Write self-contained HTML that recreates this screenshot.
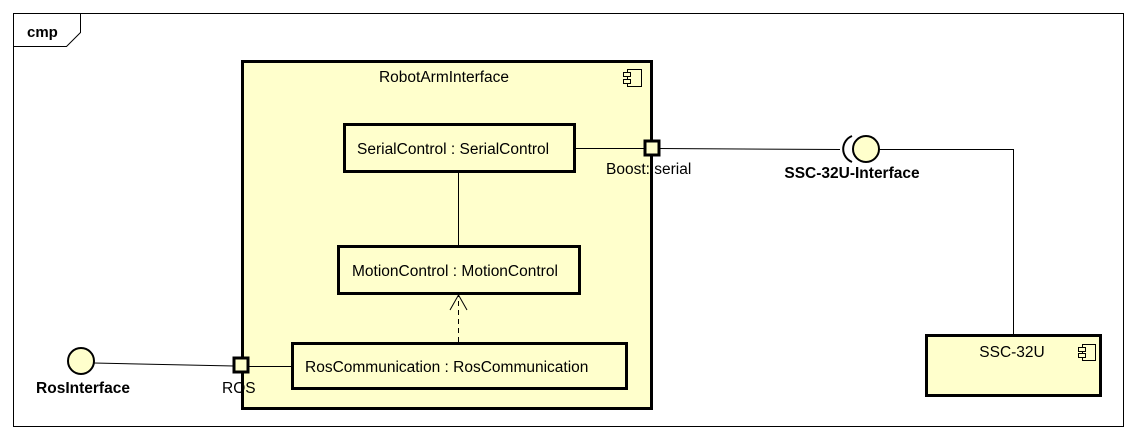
<!DOCTYPE html>
<html><head><style>body{margin:0;background:#fff}svg{display:block}</style></head><body>
<svg width="1136" height="441" xmlns="http://www.w3.org/2000/svg" font-family="Liberation Sans, sans-serif">
<rect x="0" y="0" width="1136" height="441" fill="#fff"/>
<rect x="13.5" y="13.5" width="1110" height="413" fill="none" stroke="#000" stroke-width="1"/>
<path d="M13.5 46.5 H66.5 L80.5 32.5 V13.5" fill="none" stroke="#000"/>
<text x="27" y="37" font-size="15" font-weight="bold">cmp</text>

<rect x="242.5" y="61.5" width="409" height="347" fill="#ffffcc" stroke="#000" stroke-width="3"/>
<text x="444" y="82" font-size="15.5" text-anchor="middle">RobotArmInterface</text>
<g fill="#ffffcc" stroke="#000" stroke-width="1">
<rect x="627.5" y="69.5" width="14" height="17"/><rect x="623.5" y="72.5" width="7" height="4"/><rect x="623.5" y="79.5" width="7" height="4"/>
</g>

<rect x="344.5" y="124.5" width="230" height="47" fill="#ffffcc" stroke="#000" stroke-width="3"/>
<text x="357" y="154" font-size="15.5">SerialControl : SerialControl</text>
<rect x="338.5" y="246.5" width="241" height="47" fill="#ffffcc" stroke="#000" stroke-width="3"/>
<text x="352" y="276" font-size="15.5">MotionControl : MotionControl</text>
<rect x="292.5" y="343.5" width="334" height="45" fill="#ffffcc" stroke="#000" stroke-width="3"/>
<text x="305" y="372" font-size="15.5">RosCommunication : RosCommunication</text>

<line x1="458.5" y1="172" x2="458.5" y2="246" stroke="#000"/>
<line x1="458.5" y1="342" x2="458.5" y2="296" stroke="#000" stroke-dasharray="5,4"/>
<path d="M450 310 L458.5 295 L467 310" fill="none" stroke="#000"/>
<line x1="575" y1="148.5" x2="645" y2="148.5" stroke="#000"/>
<line x1="659" y1="148.5" x2="840" y2="149.5" stroke="#000"/>
<line x1="248" y1="366.5" x2="292" y2="366.5" stroke="#000"/>
<line x1="94" y1="363" x2="234" y2="366" stroke="#000"/>
<path d="M879 149.5 H1013.5 V335" fill="none" stroke="#000"/>

<rect x="645" y="141" width="14" height="14" fill="#ffffcc" stroke="#000" stroke-width="3"/>
<rect x="234" y="358" width="14" height="14" fill="#ffffcc" stroke="#000" stroke-width="3"/>
<text x="606" y="174" font-size="15.5">Boost::serial</text>
<text x="222" y="393" font-size="15.5">ROS</text>

<circle cx="81" cy="361" r="13" fill="#ffffcc" stroke="#000" stroke-width="2"/>
<text x="83" y="393" font-size="15.5" font-weight="bold" text-anchor="middle">RosInterface</text>

<path d="M852 136 A14 14 0 0 0 852 162" fill="none" stroke="#000" stroke-width="2"/>
<circle cx="866" cy="149" r="13" fill="#ffffcc" stroke="#000" stroke-width="2"/>
<text x="852" y="178" font-size="15.5" font-weight="bold" text-anchor="middle">SSC-32U-Interface</text>

<rect x="926.5" y="335.5" width="174" height="60" fill="#ffffcc" stroke="#000" stroke-width="3"/>
<text x="1012" y="357" font-size="15.5" text-anchor="middle">SSC-32U</text>
<g fill="#ffffcc" stroke="#000" stroke-width="1">
<rect x="1082.5" y="344.5" width="13" height="16"/><rect x="1078.5" y="347.5" width="7" height="4"/><rect x="1078.5" y="353.5" width="7" height="4"/>
</g>
</svg>
</body></html>
